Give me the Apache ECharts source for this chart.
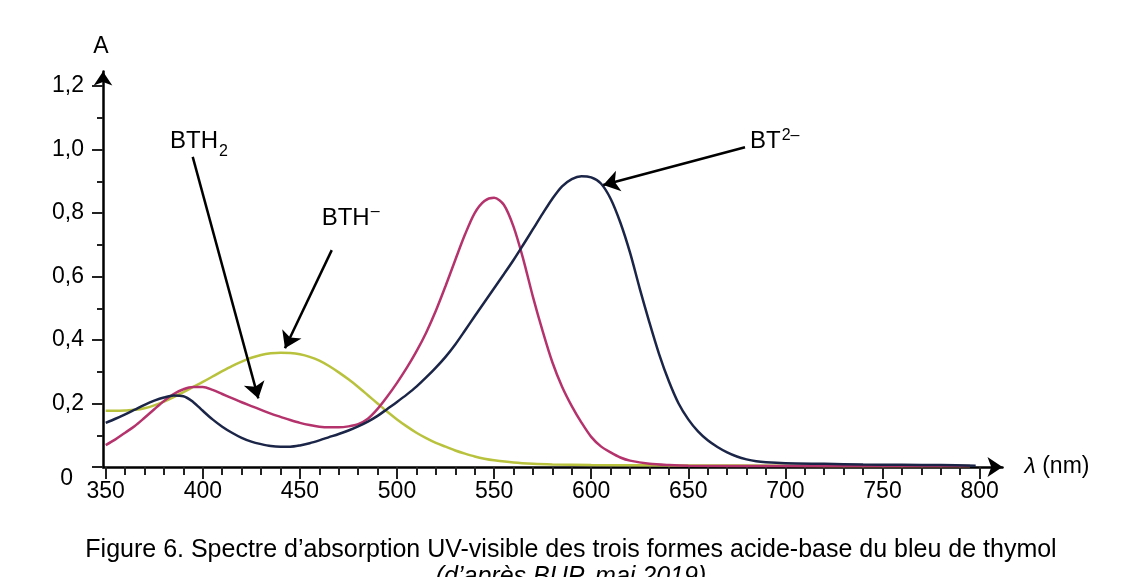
<!DOCTYPE html>
<html>
<head>
<meta charset="utf-8">
<script src="https://cdn.jsdelivr.net/npm/echarts@6/dist/echarts.min.js"></script>
<style>
html,body{margin:0;padding:0;background:#fff;}
#chart{width:1125px;height:577px;}
</style>
</head>
<body>
<div id="chart"></div>
<script>
// ---- Data ----
const lambdaBT2 = [350,355,360,365,370,375,380,385,390,395,400,405,410,415,420,425,430,435,440,445,450,455,460,465,470,475,480,485,490,495,500,505,510,515,520,525,530,535,540,545,550,555,560,565,570,575,580,585,590,595,600,605,610,615,620,625,630,635,640,645,650,655,660,665,670,675,680,685,690,700,720,740,760,780,798];
const absBT2 = [0.139,0.152,0.166,0.181,0.196,0.209,0.219,0.225,0.223,0.205,0.177,0.150,0.127,0.108,0.092,0.080,0.072,0.066,0.064,0.064,0.068,0.075,0.084,0.094,0.104,0.115,0.128,0.143,0.161,0.183,0.205,0.228,0.253,0.282,0.313,0.347,0.386,0.430,0.475,0.519,0.563,0.607,0.652,0.700,0.749,0.798,0.845,0.884,0.907,0.916,0.912,0.893,0.845,0.770,0.675,0.562,0.455,0.355,0.270,0.200,0.150,0.112,0.084,0.063,0.046,0.033,0.024,0.018,0.015,0.012,0.010,0.008,0.007,0.006,0.004];

const lambdaMag = [350,355,360,365,370,375,380,385,390,395,400,405,410,415,420,425,430,435,440,445,450,455,460,465,470,475,480,485,490,495,500,505,510,515,520,525,530,535,540,545,550,555,560,565,570,575,580,585,590,595,600,605,610,615,620,630,640,650,700,750,795];
const absMag = [0.069,0.087,0.108,0.129,0.155,0.182,0.208,0.230,0.245,0.252,0.252,0.243,0.230,0.217,0.204,0.192,0.180,0.168,0.158,0.148,0.139,0.132,0.127,0.125,0.125,0.128,0.135,0.152,0.183,0.222,0.265,0.312,0.364,0.423,0.492,0.570,0.652,0.732,0.800,0.838,0.848,0.826,0.757,0.655,0.536,0.428,0.330,0.253,0.192,0.140,0.095,0.065,0.046,0.030,0.020,0.010,0.006,0.004,0.003,0.003,0.003];

const lambdaYel = [350,355,360,365,370,375,380,385,390,395,400,405,410,415,420,425,430,435,440,445,450,455,460,465,470,475,480,485,490,495,500,505,510,515,520,525,530,535,540,545,550,560,570,580,600,650,700,750,795];
const absYel = [0.177,0.177,0.178,0.180,0.185,0.194,0.206,0.220,0.236,0.252,0.268,0.285,0.302,0.318,0.332,0.344,0.353,0.358,0.360,0.359,0.355,0.347,0.335,0.318,0.298,0.276,0.252,0.226,0.200,0.174,0.150,0.128,0.108,0.091,0.076,0.064,0.052,0.042,0.033,0.026,0.021,0.014,0.010,0.008,0.006,0.005,0.004,0.003,0.003];

const xTickValues = [350,400,450,500,550,600,650,700,750,800];
const xTickLabels = ['350','400','450','500','550','600','650','700','750','800'];
const xMinorTicks = [360,370,380,390,410,420,430,440,460,470,480,490,510,520,530,540,560,570,580,590,610,620,630,640,660,670,680,690,710,720,730,740,760,770,780,790];
const yTickValues = [0,0.2,0.4,0.6,0.8,1.0,1.2];
const yTickLabels = ['0','0,2','0,4','0,6','0,8','1,0','1,2'];
const yMinorTicks = [0.1,0.3,0.5,0.7,0.9,1.1];

const seriesNames = ['BTH⁻ (jaune)','BTH₂ (rouge)','BT²⁻ (bleu)'];
const labelTexts = ['BTH{sub|2}','BTH{sup|–}','BT{sup|2–}'];
const labelCoords = [[383.1,1.027],[461.2,0.784],[681.8,1.025]];
const arrowCoords = [
  [[394.8,0.977],[428.6,0.216]],
  [[466.4,0.683],[442.3,0.374]],
  [[679.2,1.007],[606.2,0.888]]
];

// ---- Chart ----
const FONT = 'Liberation Sans, Arial, sans-serif';
const chart = echarts.init(document.getElementById('chart'), null, {renderer:'canvas'});
const rich = {
  m:{fontSize:24, fontFamily:FONT, color:'#000', lineHeight:28},
  sub:{fontSize:16, fontFamily:FONT, color:'#000', lineHeight:14, verticalAlign:'bottom', padding:[0,0,-5,1]},
  sup:{fontSize:16, fontFamily:FONT, color:'#000', lineHeight:14, verticalAlign:'top', padding:[0,0,0,1]}
};
function mkLabel(i){
  return {
    coord: labelCoords[i],
    symbolSize: 0,
    label: {show:true, position:'right', distance:0, formatter: labelTexts[i].replace(/^([A-Z]+)/, '{m|$1}'), rich: rich}
  };
}
function mkArrow(i){
  return [{coord: arrowCoords[i][0]}, {coord: arrowCoords[i][1]}];
}
const axisCommon = {
  type:'value', splitLine:{show:false}
};
const arrowLine = {silent:true, symbol:['none','arrow'], symbolSize:16, label:{show:false},
  lineStyle:{color:'#000', width:2.5, type:'solid'}, emphasis:{disabled:true}};
const option = {
  backgroundColor:'#fff',
  animation:false,
  title:{
    text:'Figure 6. Spectre d’absorption UV-visible des trois formes acide-base du bleu de thymol',
    subtext:'(d’après BUP, mai 2019)',
    left:566, textAlign:'center', top:533, itemGap:2,
    textStyle:{fontFamily:FONT, fontSize:25, fontWeight:'normal', color:'#000'},
    subtextStyle:{fontFamily:FONT, fontSize:25, fontStyle:'italic', color:'#000'}
  },
  grid:{left:103, right:122.5, top:71.5, bottom:110, containLabel:false},
  xAxis:[
    Object.assign({}, axisCommon, {
      min:348.6, max:811.8, position:'bottom',
      name:'{i|λ} (nm)', nameLocation:'end', nameGap:22,
      nameTextStyle:{fontFamily:FONT, fontSize:23, color:'#000', verticalAlign:'middle',
        rich:{i:{fontFamily:FONT, fontSize:23, color:'#000', fontStyle:'italic'}}},
      axisLine:{show:true, symbol:['none','arrow'], symbolSize:[15,15], lineStyle:{color:'#000', width:2.5}},
      axisTick:{show:true, customValues:xTickValues, length:12, lineStyle:{color:'#222', width:2}},
      axisLabel:{show:true, customValues:xTickValues, margin:13, fontFamily:FONT, fontSize:23, color:'#000',
        formatter:(v)=>{const k=xTickValues.indexOf(v); return k>=0?xTickLabels[k]:'';}}
    }),
    Object.assign({}, axisCommon, {
      min:348.6, max:811.8, position:'bottom',
      axisLine:{show:false},
      axisTick:{show:true, customValues:xMinorTicks, length:8, lineStyle:{color:'#222', width:2}},
      axisLabel:{show:false}
    })
  ],
  yAxis:[
    Object.assign({}, axisCommon, {
      min:0, max:1.2457, position:'left',
      name:'A', nameLocation:'end', nameGap:13,
      nameTextStyle:{fontFamily:FONT, fontSize:23, color:'#000', padding:[0,4,0,0]},
      axisLine:{show:true, symbol:['none','arrow'], symbolSize:[14,14], lineStyle:{color:'#000', width:2.5}},
      axisTick:{show:true, customValues:yTickValues, length:11, lineStyle:{color:'#222', width:2}},
      axisLabel:{show:true, customValues:yTickValues, margin:19, fontFamily:FONT, fontSize:23, color:'#000',
        formatter:(v)=>{const k=yTickValues.findIndex(t=>Math.abs(t-v)<1e-9); if(k===0) return '{z|0}'; return k>=0?yTickLabels[k]:'';},
        rich:{z:{fontFamily:FONT, fontSize:23, color:'#000', padding:[24,11,0,0]}}}
    }),
    Object.assign({}, axisCommon, {
      min:0, max:1.2457, position:'left',
      axisLine:{show:false},
      axisTick:{show:true, customValues:yMinorTicks, length:6, lineStyle:{color:'#222', width:2}},
      axisLabel:{show:false}
    })
  ],
  series:[
    {
      name:seriesNames[0], type:'line', smooth:0.3, symbol:'none',
      data: lambdaYel.map((x,i)=>[x,absYel[i]]),
      lineStyle:{color:'#b8c23c', width:2.5},
      markPoint:{data:[mkLabel(1)]},
      markLine:Object.assign({}, arrowLine, {data:[mkArrow(1)]})
    },
    {
      name:seriesNames[1], type:'line', smooth:0.3, symbol:'none',
      data: lambdaMag.map((x,i)=>[x,absMag[i]]),
      lineStyle:{color:'#b5336c', width:2.5},
      markPoint:{data:[mkLabel(0)]},
      markLine:Object.assign({}, arrowLine, {data:[mkArrow(0)]})
    },
    {
      name:seriesNames[2], type:'line', smooth:0.3, symbol:'none',
      data: lambdaBT2.map((x,i)=>[x,absBT2[i]]),
      lineStyle:{color:'#1b2547', width:2.5},
      markPoint:{data:[mkLabel(2)]},
      markLine:Object.assign({}, arrowLine, {data:[mkArrow(2)]})
    }
  ]
};
chart.setOption(option);
</script>
</body>
</html>
